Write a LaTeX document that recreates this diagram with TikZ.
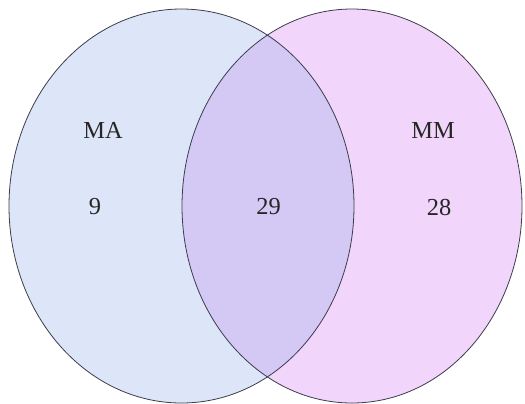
\documentclass[tikz,border=0pt]{standalone}
\usepackage{fontspec}
\setmainfont{Liberation Serif}
\usepackage{xcolor}
\definecolor{maBlue}{RGB}{221,230,248}
\definecolor{mmPink}{RGB}{241,213,251}
\definecolor{bothViolet}{RGB}{212,200,245}
\definecolor{rimGray}{RGB}{60,60,75}

\begin{document}
\begin{tikzpicture}[
  x=1bp, y=-1bp,
  setlabel/.style={font=\fontsize{24.5}{29}\selectfont, text=black!85},
  rim/.style={draw=rimGray, line width=0.8bp},
]
\useasboundingbox (0,0) rectangle (525,403);
% the two sets, then their overlap
\fill[maBlue] (181.5,206) ellipse [x radius=172.5, y radius=197];
\fill[mmPink] (352,206) ellipse [x radius=170, y radius=197];
\begin{scope}
  \clip (181.5,206) ellipse [x radius=172.5, y radius=197];
  \fill[bothViolet] (352,206) ellipse [x radius=170, y radius=197];
\end{scope}
\draw[rim] (181.5,206) ellipse [x radius=172.5, y radius=197];
\draw[rim] (352,206) ellipse [x radius=170, y radius=197];
% names and counts
\node[setlabel] (nameMA) at (103,130.5) {MA};
\node[setlabel] (nameMM) at (433,130.5) {MM};
\node[setlabel] (onlyMA) at (95,207) {9};
\node[setlabel] (both)   at (268.5,207) {29};
\node[setlabel] (onlyMM) at (439,207) {28};
\end{tikzpicture}
\end{document}
